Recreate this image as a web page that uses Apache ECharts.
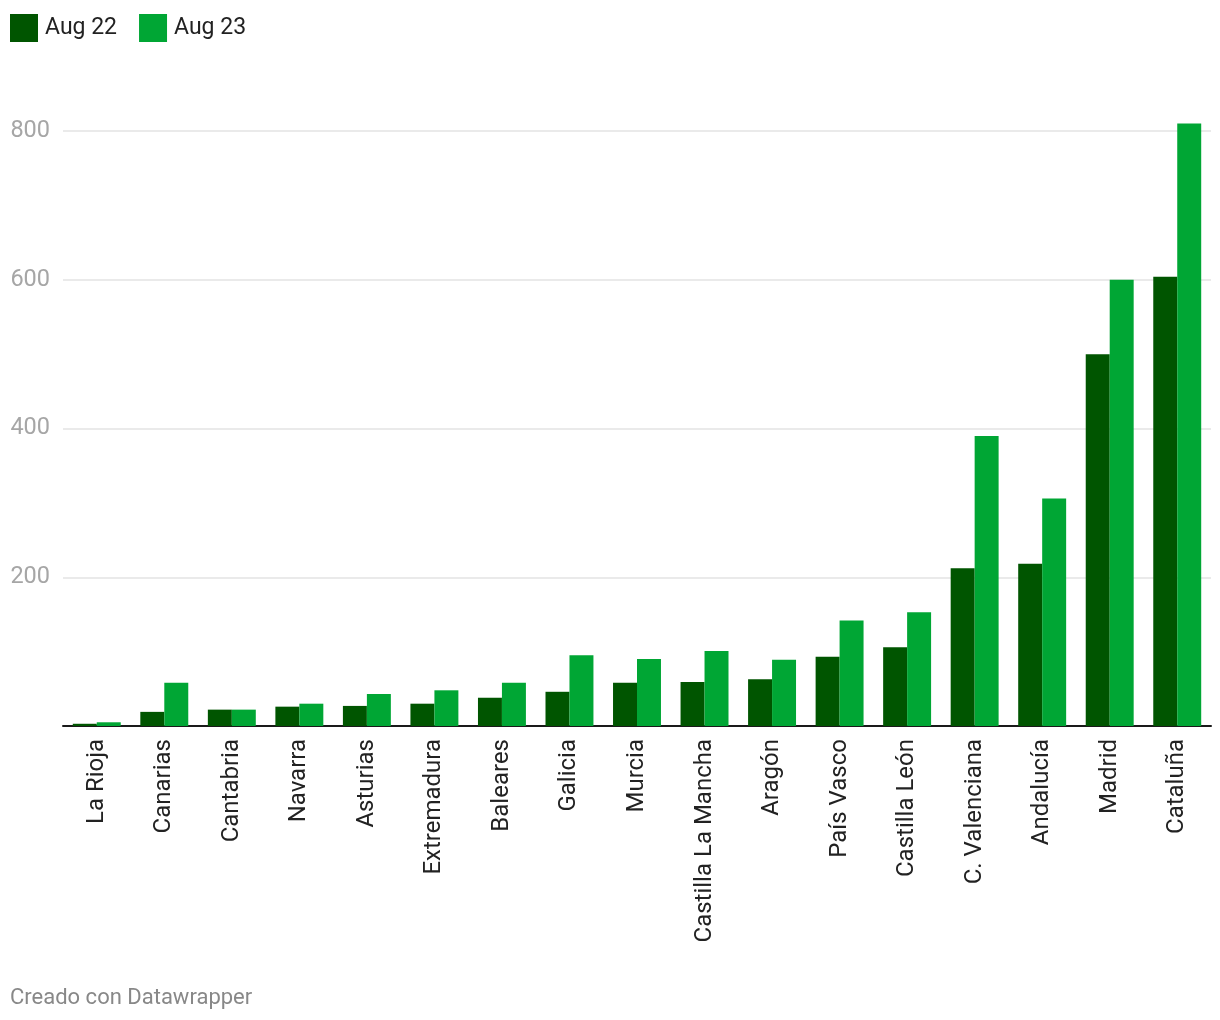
<!DOCTYPE html>
<html>
<head>
<meta charset="utf-8">
<script src="https://cdn.jsdelivr.net/npm/echarts@6/dist/echarts.min.js"></script>
<style>
  html, body { margin: 0; padding: 0; background: #fff; }
  #chart { width: 1220px; height: 1020px; }
</style>
</head>
<body>
<div id="chart"></div>
<script>
var regions = ['La Rioja', 'Canarias', 'Cantabria', 'Navarra', 'Asturias', 'Extremadura', 'Baleares', 'Galicia', 'Murcia', 'Castilla La Mancha', 'Aragón', 'País Vasco', 'Castilla León', 'C. Valenciana', 'Andalucía', 'Madrid', 'Cataluña'];
var aug22 = [3, 19, 22, 26, 27, 30, 38, 46, 58, 59, 63, 93, 106, 212, 218, 500, 604];
var aug23 = [5, 58, 22, 30, 43, 48, 58, 95, 90, 101, 89, 142, 153, 390, 306, 600, 810];
var yTicks = [0, 200, 400, 600, 800];

(function() {
  var dark = '#005500';
  var bright = '#00a634';
  var ink = '#222222';
  var muted = '#a6a6a6';
  var rule = '#e3e3e3';
  var font = 'Roboto';

  var chart = echarts.init(document.getElementById('chart'), null, { renderer: 'canvas' });
  chart.setOption({
    animation: false,
    textStyle: { fontFamily: font },
    legend: {
      left: 10,
      top: 14,
      padding: 0,
      itemWidth: 28,
      itemHeight: 28,
      itemGap: 22,
      icon: 'rect',
      textStyle: { color: ink, fontSize: 23, fontFamily: font, padding: [2, 0, 0, 2] },
      data: ['Aug 22', 'Aug 23']
    },
    graphic: [{
      type: 'text',
      left: 10,
      top: 987,
      style: { text: 'Creado con Datawrapper', fill: '#888888', fontSize: 22, fontFamily: font }
    }],
    grid: { left: 63, right: 9, top: 131, bottom: 294 },
    xAxis: {
      type: 'category',
      data: regions,
      axisLine: { lineStyle: { color: '#1a1a1a', width: 2 } },
      axisTick: { show: false },
      axisLabel: { color: ink, fontSize: 24, rotate: 90, margin: 13, fontFamily: font }
    },
    yAxis: {
      type: 'value',
      min: yTicks[0],
      max: yTicks[yTicks.length - 1],
      interval: 200,
      axisLine: { show: false },
      axisTick: { show: false },
      splitLine: { lineStyle: { color: rule, width: 1.5 } },
      axisLabel: {
        color: muted, fontSize: 23.5, margin: 13, fontFamily: font,
        formatter: function(v) { return v === 0 ? '' : v; }
      }
    },
    series: [
      {
        name: 'Aug 22',
        type: 'bar',
        data: aug22,
        clip: false,
        barGap: '0%',
        barCategoryGap: '29%',
        itemStyle: { color: dark }
      },
      {
        name: 'Aug 23',
        type: 'bar',
        data: aug23,
        clip: false,
        barGap: '0%',
        barCategoryGap: '29%',
        itemStyle: { color: bright }
      }
    ]
  });
})();
</script>
</body>
</html>
